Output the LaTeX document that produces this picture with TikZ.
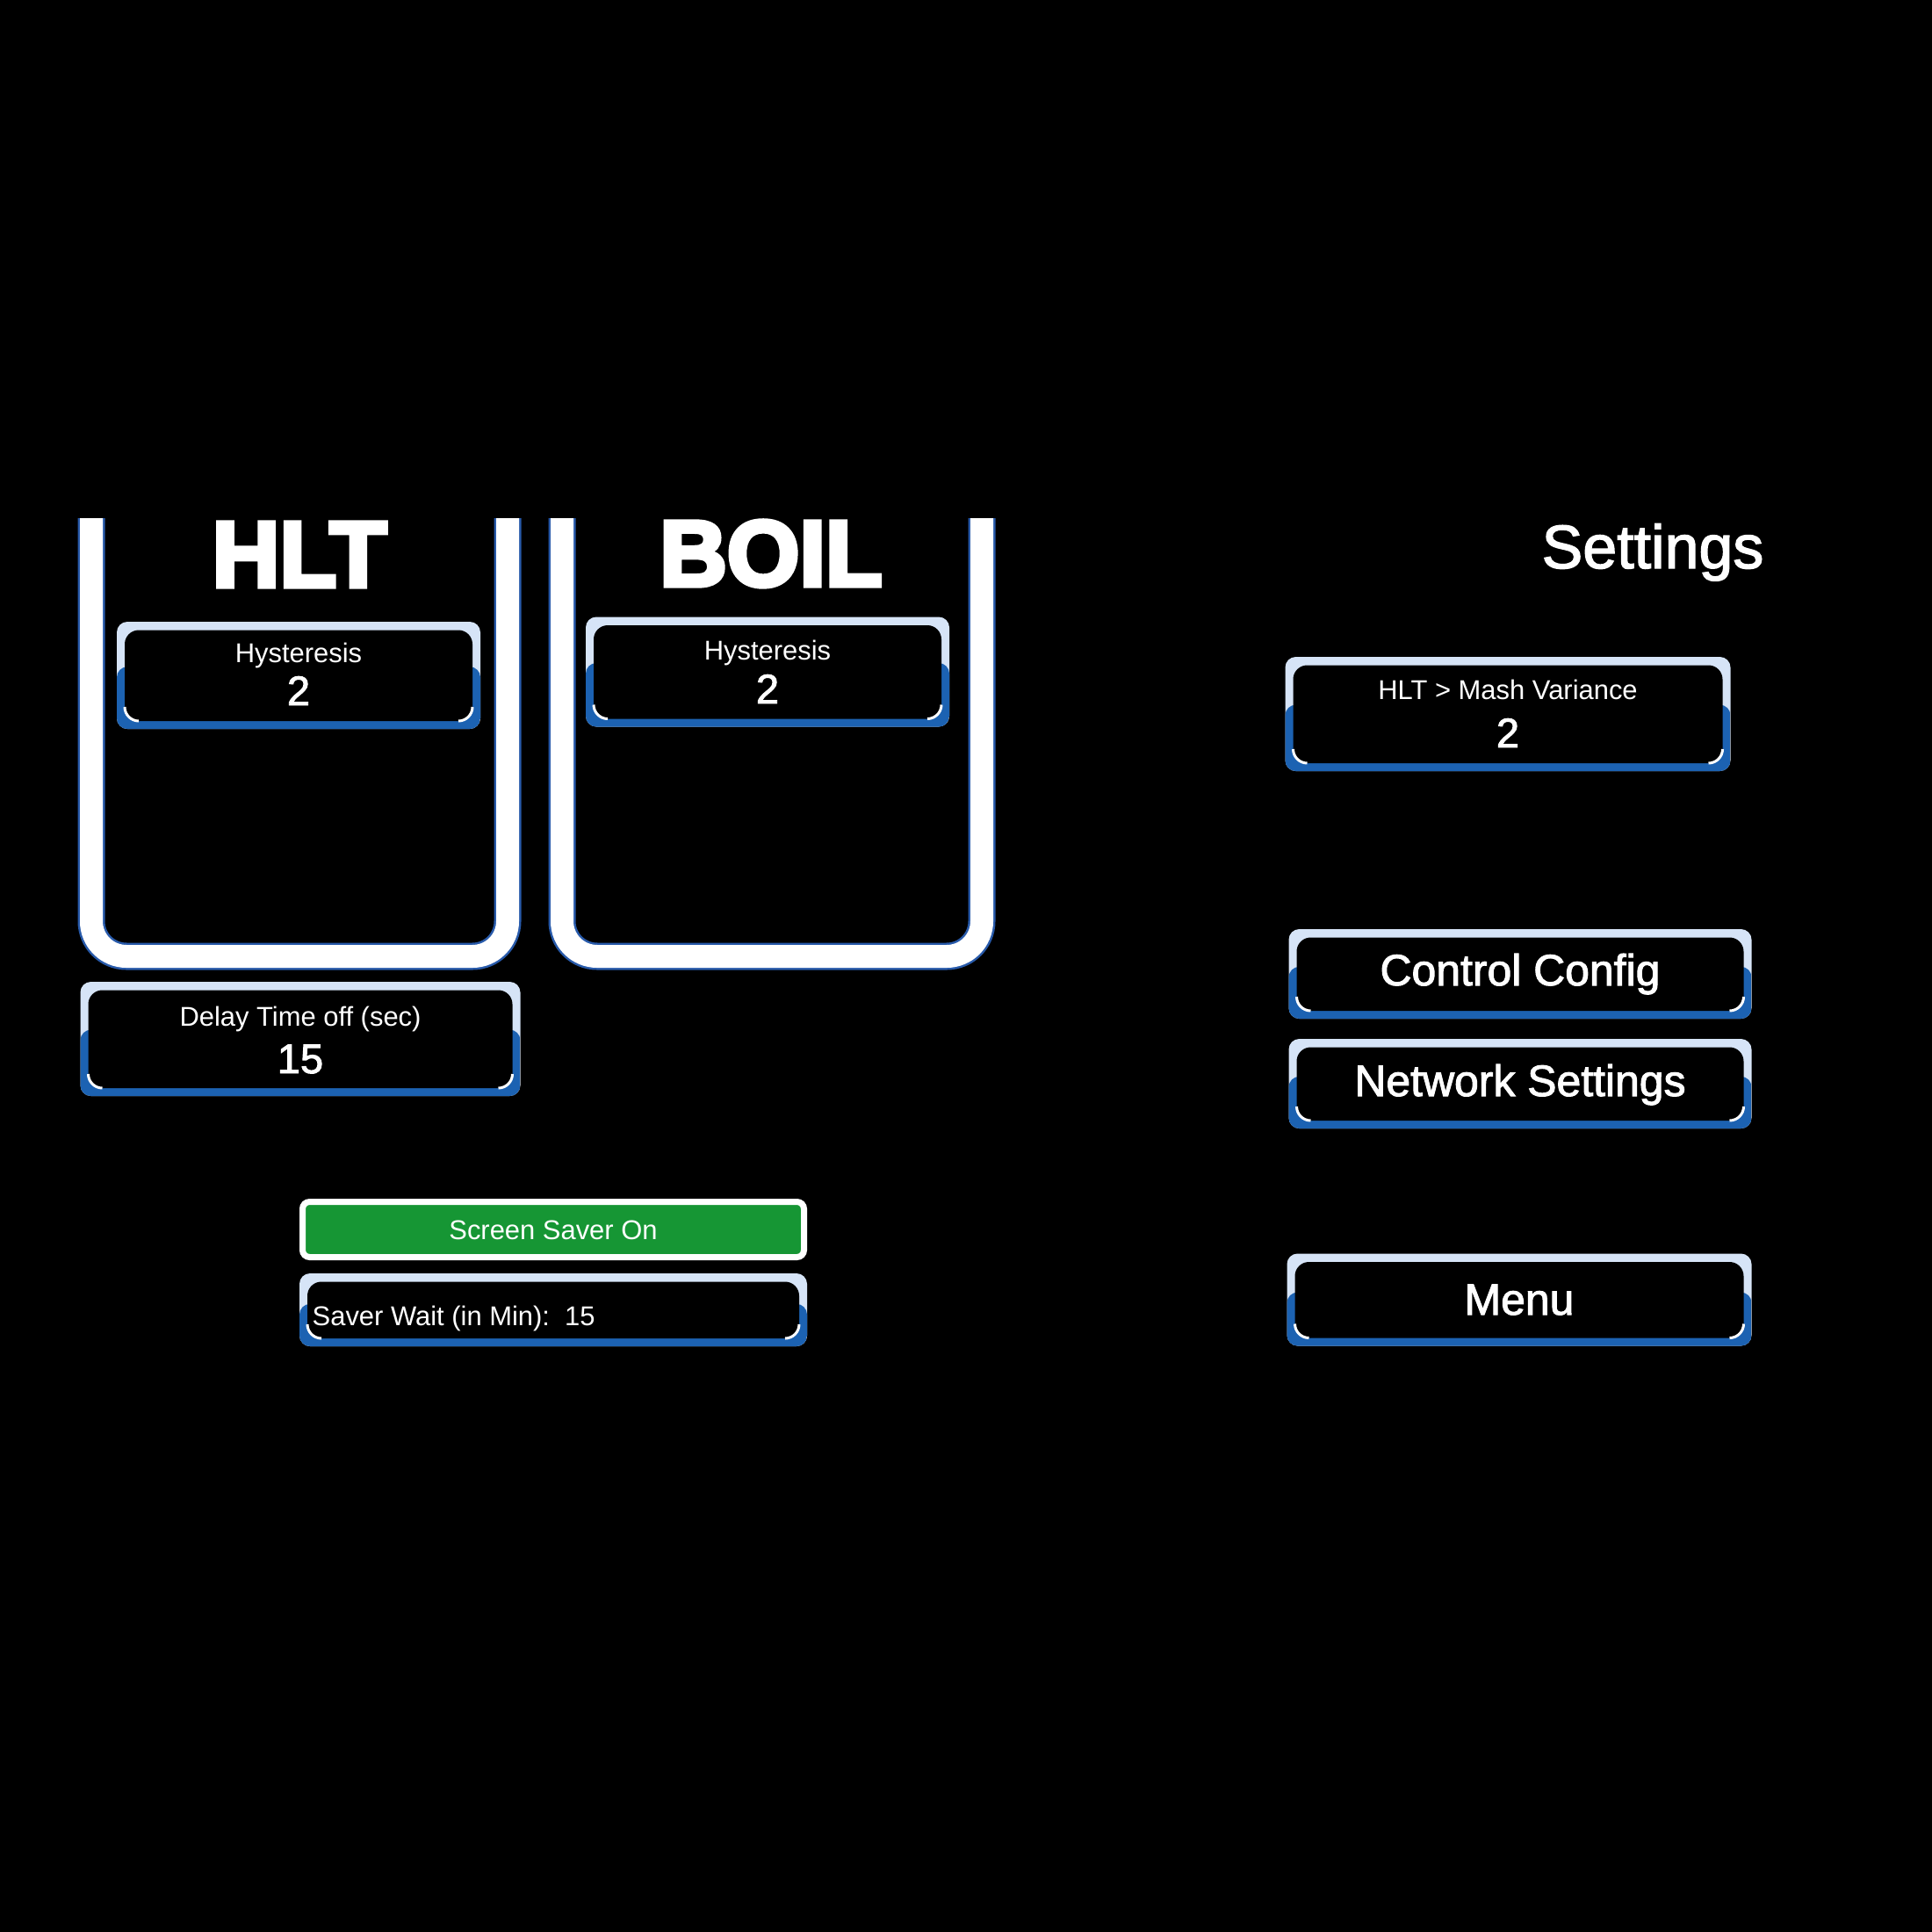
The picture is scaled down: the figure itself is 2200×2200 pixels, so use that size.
\documentclass[tikz,border=0pt]{standalone}
\usepackage{fontspec}
\setmainfont{Liberation Sans}
\newfontfamily\tankfont[BoldFeatures={FakeBold=5}]{Liberation Sans}
\newfontfamily\screenfont[UprightFeatures={FakeBold=2}]{Liberation Sans}
\usetikzlibrary{calc}
\definecolor{btnlight}{RGB}{214,228,247}
\definecolor{btnblue}{RGB}{28,98,178}
\definecolor{savergreen}{RGB}{22,150,52}
\definecolor{glowblue}{RGB}{40,90,170}
\tikzset{
  btn/.style={fill=btnlight, rounded corners=1.2mm, inner sep=0pt,
    path picture={
      \fill[btnblue] ($(path picture bounding box.north west)!0.42!(path picture bounding box.south west)$) rectangle (path picture bounding box.south east);
      \fill[black, rounded corners=1.6mm] ([shift={(0.9mm,-0.95mm)}]path picture bounding box.north west) rectangle ([shift={(-0.9mm,0.9mm)}]path picture bounding box.south east);
      \draw[white, line width=0.3mm] ([shift={(0.9mm,2.5mm)}]path picture bounding box.south west) arc[start angle=180, end angle=270, radius=1.6mm];
      \draw[white, line width=0.3mm] ([shift={(-2.5mm,0.9mm)}]path picture bounding box.south east) arc[start angle=270, end angle=360, radius=1.6mm];
    }},
  saver/.style={draw=white, line width=0.7mm, fill=savergreen, rounded corners=0.8mm, inner sep=0pt},
  wall/.style={draw=white, line width=2.6mm, rounded corners=4mm, line cap=butt},
  glow/.style={draw=glowblue, line width=3.1mm, rounded corners=4mm, line cap=butt},
  tank/.style={text=white, anchor=base, inner sep=0pt, font=\tankfont\bfseries\fontsize{30.2}{32}\selectfont},
  title/.style={text=white, anchor=base, inner sep=0pt, font=\screenfont\fontsize{19.9}{22}\selectfont},
  small/.style={text=white, anchor=base, inner sep=0pt, font=\fontsize{8.8}{10}\selectfont},
  value/.style={text=white, anchor=base, inner sep=0pt, font=\screenfont\fontsize{13.4}{15}\selectfont},
  big/.style={text=white, anchor=base, inner sep=0pt, font=\screenfont\fontsize{14.2}{16}\selectfont}
}
\begin{document}
\begin{tikzpicture}[x=0.1mm, y=-0.1mm]
\fill[black] (0,0) rectangle (2200,2200);
\useasboundingbox (0,0) rectangle (2200,2200);
% tanks
\foreach \l/\r in {104/578, 640/1118}{
    \draw[glow] (\l,590) -- (\l,1089) -- (\r,1089) -- (\r,590);
    \draw[wall] (\l,590) -- (\l,1089) -- (\r,1089) -- (\r,590);
}
\node[tank] (hltName) at (341,668) {HLT};
\node[tank] (boilName) at (878,667) {BOIL};
\node[title] (settings) at (1882,647) {Settings};
% hysteresis
\node[btn, minimum width=41.4mm, minimum height=12.2mm] (hltHyst) at (340,769) {};
\node[small] (hltHystT) at (340,754) {Hysteresis};
\node[value] (hltHystV) at (340,803) {2};
\node[btn, minimum width=41.4mm, minimum height=12.5mm] (boilHyst) at (874,765) {};
\node[small] (boilHystT) at (874,751) {Hysteresis};
\node[value] (boilHystV) at (874,801) {2};
\node[btn, minimum width=50.1mm, minimum height=13mm] (delay) at (342,1183) {};
\node[small] (delayT) at (342,1168) {Delay Time off (sec)};
\node[value] (delayV) at (342,1222) {15};
% screen saver
\node[saver, minimum width=57.1mm, minimum height=6.3mm] (saverOn) at (630,1400) {};
\node[small] (saverOnT) at (630,1411) {Screen Saver On};
\node[btn, minimum width=57.8mm, minimum height=8.3mm] (saverWait) at (630,1491.5) {};
\node[small, anchor=base west] (saverWaitT) at (355,1509) {Saver Wait (in Min):\ \ 15};
% right column
\node[btn, minimum width=50.7mm, minimum height=13mm] (variance) at (1717,813) {};
\node[small] (varianceT) at (1717,796) {HLT > Mash Variance};
\node[value] (varianceV) at (1717,851) {2};
\node[btn, minimum width=52.7mm, minimum height=10.2mm] (control) at (1731,1109) {};
\node[big] (controlT) at (1731,1122) {Control Config};
\node[btn, minimum width=52.7mm, minimum height=10.2mm] (network) at (1731,1234) {};
\node[big] (networkT) at (1731,1248) {Network Settings};
\node[btn, minimum width=52.9mm, minimum height=10.5mm] (menu) at (1730,1480) {};
\node[big] (menuT) at (1730,1497) {Menu};
\end{tikzpicture}
\end{document}
